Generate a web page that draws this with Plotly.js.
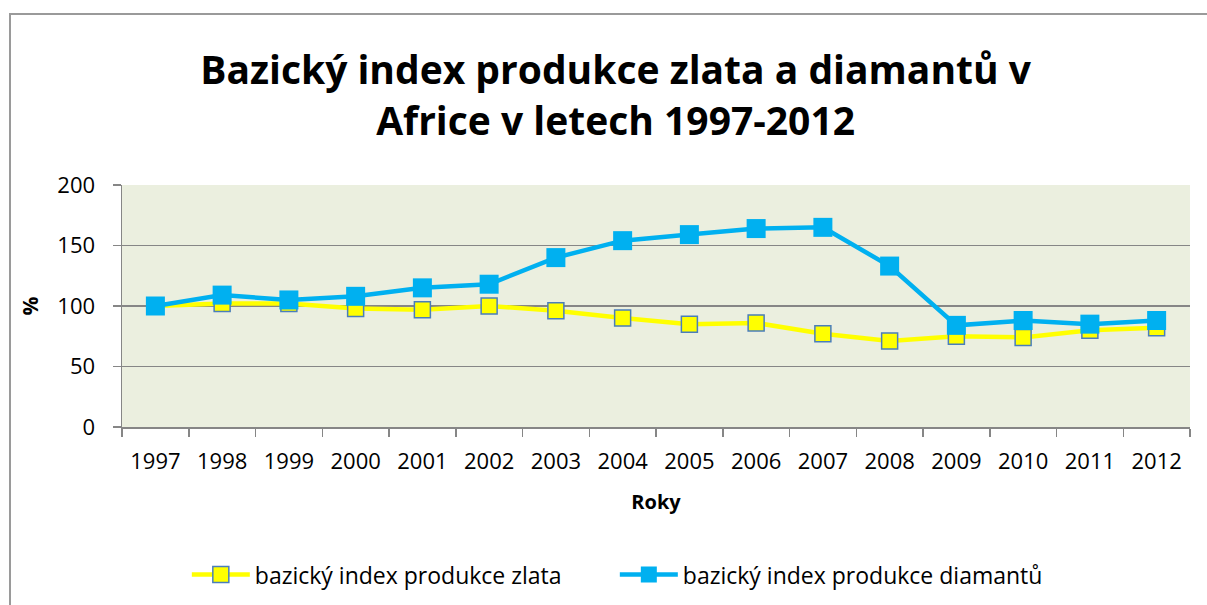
<!DOCTYPE html>
<html><head><meta charset="utf-8">
<script src="https://cdn.plot.ly/plotly-3.0.1.min.js"></script>
<style>
html,body{margin:0;padding:0;background:#fff;}
#wrap{position:relative;width:1207px;height:605px;overflow:hidden;}
#chart{width:1207px;height:605px;}
#frame{position:absolute;left:9px;top:13px;width:1210px;height:620px;border:2px solid #9a9a9a;box-sizing:border-box;pointer-events:none;}
</style></head>
<body><div id="wrap"><div id="chart"></div><div id="frame"></div></div>
<script>
const years = ['1997','1998','1999','2000','2001','2002','2003','2004','2005','2006','2007','2008','2009','2010','2011','2012'];
const goldIndex = [100,102,102,98,97,100,96,90,85,86,77,71,75,74,80,82];
const diamondIndex = [100,109,105,108,115,118,140,154,159,164,165,133,84,88,85,88];
const seriesNames = ['bazický index produkce zlata','bazický index produkce diamantů'];
const titleText = 'Bazický index produkce zlata a diamantů v<br>Africe v letech 1997-2012';

const F = '"Open Sans", "Noto Sans", sans-serif';
const traces = [
 {x: years, y: goldIndex, name: seriesNames[0], type:'scatter', mode:'lines+markers',
  line:{color:'#FFFF00', width:4.5},
  marker:{symbol:'square', size:16, color:'#FFFF00', line:{color:'#4A7EBB', width:1.5}}},
 {x: years, y: diamondIndex, name: seriesNames[1], type:'scatter', mode:'lines+markers',
  line:{color:'#00B0F0', width:4.5},
  marker:{symbol:'square', size:19, color:'#00B0F0', line:{color:'#00B0F0', width:0}}}
];
const layout = {
 width:1207, height:605,
 margin:{l:122, r:17, t:185, b:178, autoexpand:false},
 paper_bgcolor:'#ffffff', plot_bgcolor:'#EBEFDF',
 font:{family:F, color:'#000'},
 title:{text:titleText, font:{family:F, size:39, color:'#000', weight:700},
   x:0.51, xanchor:'center', y:0.861, yanchor:'middle', yref:'container'},
 xaxis:{type:'category', range:[-0.5,15.5], tickson:'boundaries', ticks:'outside', ticklen:8,
   tickcolor:'#868686', tickwidth:1.5, showline:true, linecolor:'#868686', linewidth:1.5,
   showgrid:false, tickfont:{size:22, family:F}, automargin:false, ticklabelstandoff:14,
   title:{text:'Roky', font:{size:20, family:F, weight:700}, standoff:21}},
 yaxis:{range:[0,200], dtick:50, ticks:'outside', ticklen:8, tickcolor:'#868686', tickwidth:1.5,
   showline:true, linecolor:'#868686', linewidth:1.5, showgrid:true, gridcolor:'#868686', gridwidth:1.5,
   zeroline:false, tickfont:{size:22, family:F}, automargin:false, ticklabelstandoff:13,
   title:{text:'%', font:{size:21, family:F, weight:700}, standoff:13}},
 showlegend:true,
 legend:{orientation:'h', x:0.0607, xanchor:'left', y:-0.61, yanchor:'middle',
   font:{size:23, family:F}, itemwidth:58, entrywidth:355, bgcolor:'rgba(0,0,0,0)'}
};
Plotly.newPlot('chart', traces, layout, {displayModeBar:false, staticPlot:true}).then(function(gd){
  gd.querySelectorAll('.legend .legendlines path').forEach(function(p){ p.setAttribute('d','M5,0h58'); });
  gd.querySelectorAll('.legend .legendpoints path.scatterpts').forEach(function(p){ p.setAttribute('transform','translate(34,0)'); });
});
</script></body></html>
